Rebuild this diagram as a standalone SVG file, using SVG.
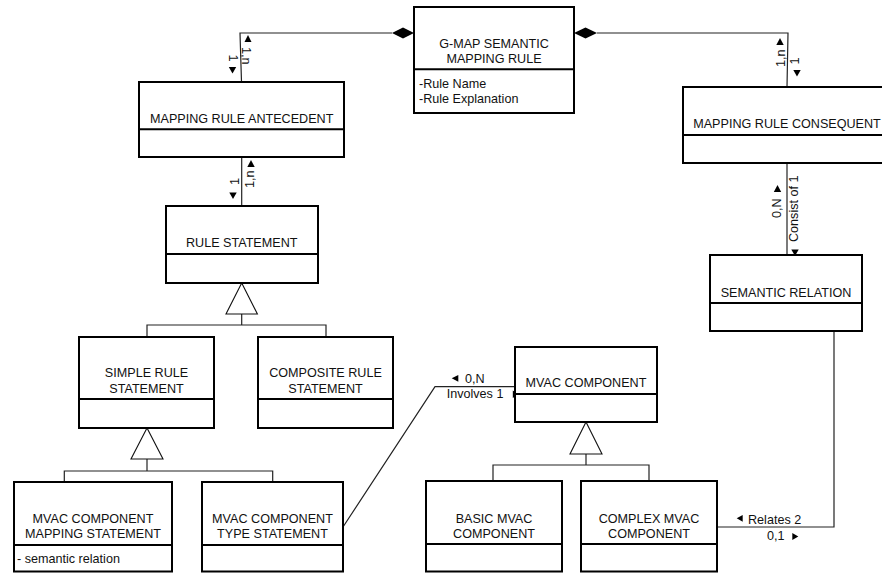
<svg xmlns="http://www.w3.org/2000/svg" width="882" height="573" viewBox="0 0 882 573">
  <style>
    .box { fill: #fff; stroke: #000; stroke-width: 2; }
    .div { stroke: #000; stroke-width: 2; }
    .t { font-family: "Liberation Sans", Arial, sans-serif; font-size: 12.6px; fill: #111; }
    .c { text-anchor: middle; }
    .ln { fill: none; stroke: #222; stroke-width: 1.2; }
    .gen { fill: #fff; stroke: #111; stroke-width: 1.1; }
    .dia { fill: #000; stroke: none; }
    .tri { fill: #000; stroke: none; }
  </style>
  <rect width="882" height="573" fill="#fff"/>

  <!-- connectors -->
  <g id="connectors">
    <!-- rule -> antecedent (composition) -->
    <polyline class="ln" points="392,33 240,33 241.5,82"/>
    <polygon class="dia" points="392,33 403,27.5 414,33 403,38.5"/>
    <polygon class="tri" points="248,35 244.5,42 251.5,42"/>
    <text class="t" transform="translate(242,47) rotate(90)">1,n</text>
    <text class="t c" transform="translate(229,58) rotate(90)">1</text>
    <polygon class="tri" points="228.8,67 236.2,67 232.5,73.5"/>

    <!-- rule -> consequent (composition) -->
    <polyline class="ln" points="597,33 788,33 787,87"/>
    <polygon class="dia" points="574,33 585.5,27.5 597,33 585.5,38.5"/>
    <polygon class="tri" points="780,38 776.3,45 783.7,45"/>
    <text class="t" transform="translate(785,67) rotate(-90)">1,n</text>
    <text class="t c" transform="translate(799,61) rotate(-90)">1</text>
    <polygon class="tri" points="793.3,70 800.7,70 797,76.5"/>

    <!-- antecedent -> rule statement -->
    <line class="ln" x1="241.7" y1="157" x2="241.7" y2="206"/>
    <polygon class="tri" points="251,160 247.3,167 254.7,167"/>
    <text class="t" transform="translate(254,188) rotate(-90)">1,n</text>
    <text class="t c" transform="translate(238.5,181.5) rotate(-90)">1</text>
    <polygon class="tri" points="229.3,192.5 236.7,192.5 233,199"/>

    <!-- consequent -> semantic relation -->
    <line class="ln" x1="787" y1="163" x2="787" y2="255"/>
    <polygon class="tri" points="777.5,185 773.8,192 781.2,192"/>
    <text class="t" transform="translate(781,218) rotate(-90)">0,N</text>
    <text class="t" transform="translate(797.5,242) rotate(-90)">Consist of 1</text>
    <polygon class="tri" points="791.3,249.5 798.7,249.5 795,256"/>

    <!-- generalisation: rule statement -->
    <polyline class="ln" points="241.7,314 241.7,325"/>
    <polyline class="ln" points="147,337 147,325 326,325 326,337"/>
    <polygon class="gen" points="241.7,283 226,314 257.4,314"/>

    <!-- generalisation: simple rule statement -->
    <polyline class="ln" points="147,459 147,471"/>
    <polyline class="ln" points="64.3,482 64.3,471 272.7,471 272.7,482"/>
    <polygon class="gen" points="147,428 131,459 163,459"/>

    <!-- generalisation: mvac component -->
    <polyline class="ln" points="586,454 586,465"/>
    <polyline class="ln" points="493,481 493,465 649,465 649,481"/>
    <polygon class="gen" points="586,422 570,454 602,454"/>

    <!-- type statement -> mvac component -->
    <polyline class="ln" points="343,527 435,386.7 515,386.7"/>
    <polygon class="tri" points="451.7,378.3 458.3,375 458.3,381.7"/>
    <text class="t" x="465" y="383">0,N</text>
    <text class="t" x="446.7" y="397.5">Involves 1</text>
    <polygon class="tri" points="512.8,390.5 518.5,394.2 512.8,397.9"/>

    <!-- semantic relation -> complex mvac -->
    <polyline class="ln" points="834,331 834,527 717,527"/>
    <polygon class="tri" points="736.7,518.3 742.7,515 742.7,521.7"/>
    <text class="t" x="748" y="524">Relates 2</text>
    <text class="t" x="767" y="539.5">0,1</text>
    <polygon class="tri" points="792.3,533 798.3,536.5 792.3,540"/>
  </g>

  <!-- nodes -->
  <g id="gmap-rule">
    <rect class="box" x="414" y="7" width="160" height="106"/>
    <line class="div" x1="414" y1="69.3" x2="574" y2="69.3"/>
    <text class="t c" x="494" y="48">G-MAP SEMANTIC</text>
    <text class="t c" x="494" y="63">MAPPING RULE</text>
    <text class="t" x="419" y="88">-Rule Name</text>
    <text class="t" x="419" y="103">-Rule Explanation</text>
  </g>

  <g id="antecedent">
    <rect class="box" x="139" y="82" width="205" height="75"/>
    <line class="div" x1="139" y1="129.3" x2="344" y2="129.3"/>
    <text class="t c" x="241.7" y="123">MAPPING RULE ANTECEDENT</text>
  </g>

  <g id="consequent">
    <rect class="box" x="683" y="87" width="208" height="76"/>
    <line class="div" x1="683" y1="135" x2="891" y2="135"/>
    <text class="t c" x="787" y="128">MAPPING RULE CONSEQUENT</text>
  </g>

  <g id="rule-statement">
    <rect class="box" x="166" y="206" width="152" height="77"/>
    <line class="div" x1="166" y1="254" x2="318" y2="254"/>
    <text class="t c" x="241.7" y="247">RULE STATEMENT</text>
  </g>

  <g id="semantic-relation">
    <rect class="box" x="710" y="255" width="152" height="76"/>
    <line class="div" x1="710" y1="303" x2="862" y2="303"/>
    <text class="t c" x="786" y="296.5">SEMANTIC RELATION</text>
  </g>

  <g id="simple-rule-statement">
    <rect class="box" x="79" y="337" width="135" height="91"/>
    <line class="div" x1="79" y1="399" x2="214" y2="399"/>
    <text class="t c" x="146.5" y="377">SIMPLE RULE</text>
    <text class="t c" x="146.5" y="392.5">STATEMENT</text>
  </g>

  <g id="composite-rule-statement">
    <rect class="box" x="258" y="337" width="135" height="91"/>
    <line class="div" x1="258" y1="399" x2="393" y2="399"/>
    <text class="t c" x="325.5" y="377">COMPOSITE RULE</text>
    <text class="t c" x="325.5" y="392.5">STATEMENT</text>
  </g>

  <g id="mvac-component">
    <rect class="box" x="515" y="347" width="142" height="75"/>
    <line class="div" x1="515" y1="394" x2="657" y2="394"/>
    <text class="t c" x="586" y="387">MVAC COMPONENT</text>
  </g>

  <g id="mapping-statement">
    <rect class="box" x="14" y="482" width="158" height="89.5"/>
    <line class="div" x1="14" y1="545" x2="172" y2="545"/>
    <text class="t c" x="93" y="523">MVAC COMPONENT</text>
    <text class="t c" x="93" y="538">MAPPING STATEMENT</text>
    <text class="t" x="17" y="562.5">- semantic relation</text>
  </g>

  <g id="type-statement">
    <rect class="box" x="202" y="482" width="141" height="89.5"/>
    <line class="div" x1="202" y1="545" x2="343" y2="545"/>
    <text class="t c" x="272.5" y="523">MVAC COMPONENT</text>
    <text class="t c" x="272.5" y="538">TYPE STATEMENT</text>
  </g>

  <g id="basic-mvac">
    <rect class="box" x="426" y="481" width="136" height="90.5"/>
    <line class="div" x1="426" y1="544" x2="562" y2="544"/>
    <text class="t c" x="494" y="522.7">BASIC MVAC</text>
    <text class="t c" x="494" y="537.7">COMPONENT</text>
  </g>

  <g id="complex-mvac">
    <rect class="box" x="581" y="481" width="136" height="90.5"/>
    <line class="div" x1="581" y1="544" x2="717" y2="544"/>
    <text class="t c" x="649" y="522.7">COMPLEX MVAC</text>
    <text class="t c" x="649" y="537.7">COMPONENT</text>
  </g>
</svg>
